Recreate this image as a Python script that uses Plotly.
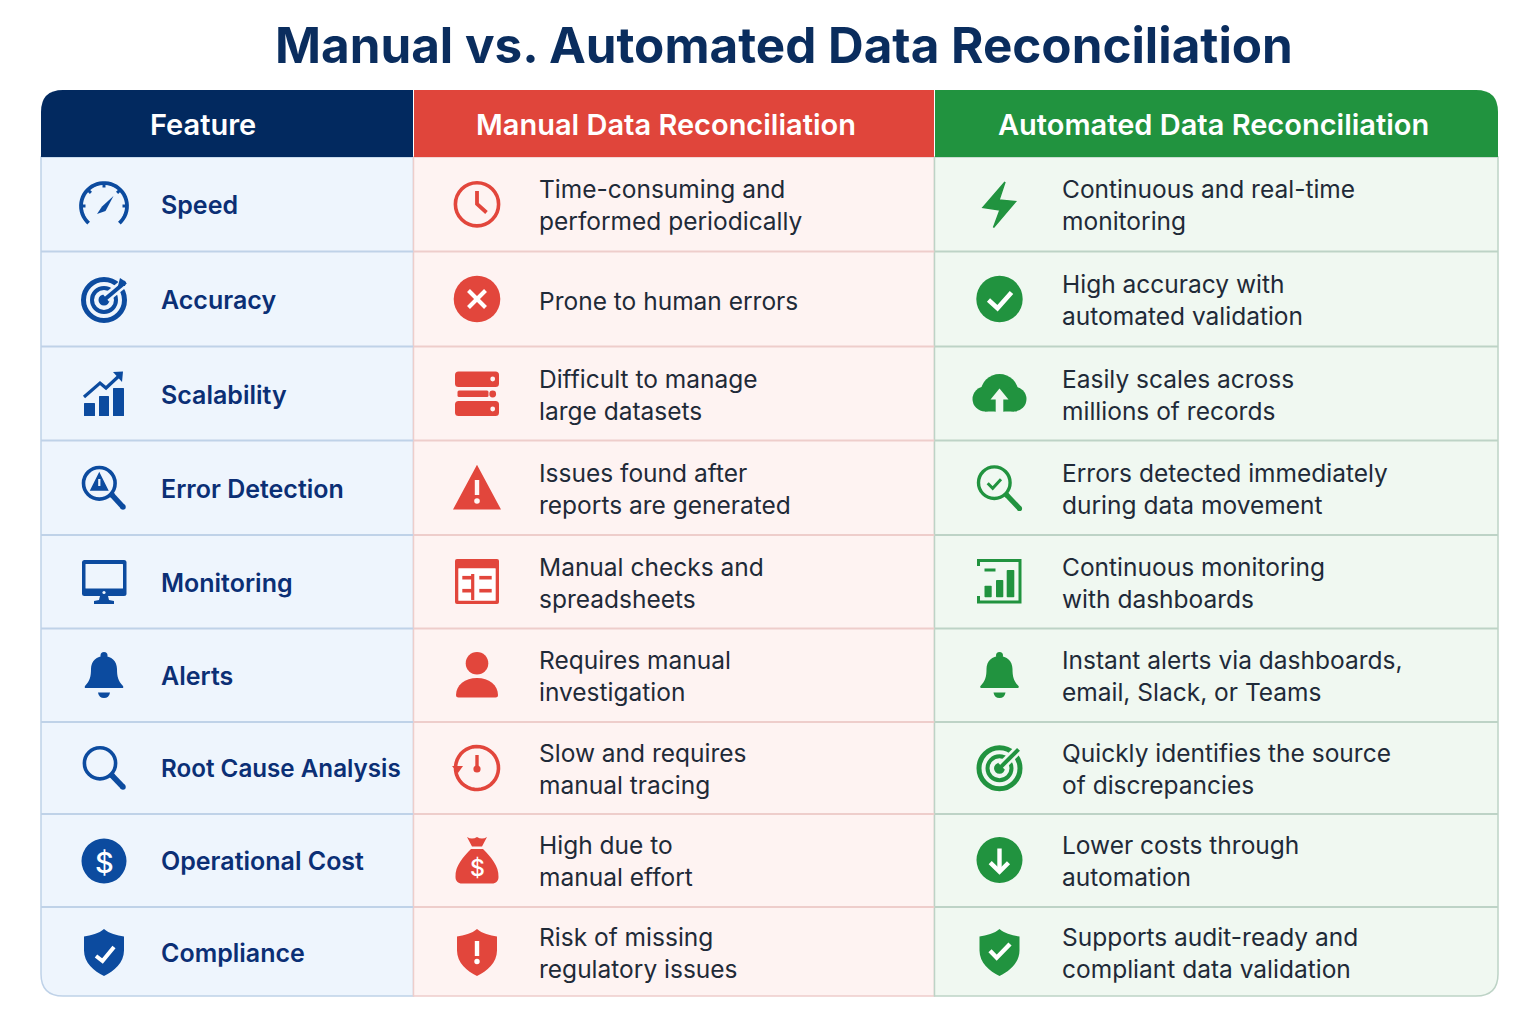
import numpy as np
import plotly.graph_objects as go

# table content
features = ["Speed", "Accuracy", "Scalability", "Error Detection", "Monitoring",
            "Alerts", "Root Cause Analysis", "Operational Cost", "Compliance"]
manual = [
    ["Time-consuming and", "performed periodically"],
    ["Prone to human errors"],
    ["Difficult to manage", "large datasets"],
    ["Issues found after", "reports are generated"],
    ["Manual checks and", "spreadsheets"],
    ["Requires manual", "investigation"],
    ["Slow and requires", "manual tracing"],
    ["High due to", "manual effort"],
    ["Risk of missing", "regulatory issues"],
]
automated = [
    ["Continuous and real-time", "monitoring"],
    ["High accuracy with", "automated validation"],
    ["Easily scales across", "millions of records"],
    ["Errors detected immediately", "during data movement"],
    ["Continuous monitoring", "with dashboards"],
    ["Instant alerts via dashboards,", "email, Slack, or Teams"],
    ["Quickly identifies the source", "of discrepancies"],
    ["Lower costs through", "automation"],
    ["Supports audit-ready and", "compliant data validation"],
]
headers = ["Feature", "Manual Data Reconciliation", "Automated Data Reconciliation"]
title = "Manual vs. Automated Data Reconciliation"

# layout, in page pixels
col_x = [41, 413.5, 934.5, 1498]
row_y = [157, 251.5, 346.5, 440.5, 535, 628.5, 722, 814, 907, 996]
row_mid = [205, 300, 395, 489, 583, 676, 769, 861, 953]
icon_x = [104, 477, 999.5]
FONT = "Inter"
NAVY, RED, GREEN = "#02295f", "#e0453b", "#21933f"
BLUE_IC, RED_IC, GREEN_IC = "#0c4b9f", "#e2463c", "#21933f"
BG = ["#eef5fd", "#fef3f2", "#f0f8f1"]
EDGE = ["#bfd2e8", "#eecdcb", "#bdd3c6"]

shapes = []
notes = []


def path(d, fill=None, line=None, w=0, layer="above"):
    shapes.append(dict(type="path", path=d, xref="x", yref="y", layer=layer,
                       fillcolor=fill or "rgba(0,0,0,0)",
                       line=dict(color=line or "rgba(0,0,0,0)", width=w)))


def poly(pts, close=False):
    d = "M " + " L ".join(f"{x:.2f},{y:.2f}" for x, y in pts)
    return d + (" Z" if close else "")


def stroke(pts, color, w, caps=False):
    path(poly(pts), line=color, w=w)
    if caps:
        for x, y in (pts[0], pts[-1]):
            circle(x, y, w / 2, fill=color)


def circle(cx, cy, r, fill=None, line=None, w=0):
    shapes.append(dict(type="circle", xref="x", yref="y", x0=cx - r, x1=cx + r, y0=cy - r, y1=cy + r,
                       fillcolor=fill or "rgba(0,0,0,0)",
                       line=dict(color=line or "rgba(0,0,0,0)", width=w)))


def rrect(x0, y0, x1, y1, r):
    return (f"M {x0 + r},{y0} L {x1 - r},{y0} Q {x1},{y0} {x1},{y0 + r} L {x1},{y1 - r} "
            f"Q {x1},{y1} {x1 - r},{y1} L {x0 + r},{y1} Q {x0},{y1} {x0},{y1 - r} "
            f"L {x0},{y0 + r} Q {x0},{y0} {x0 + r},{y0} Z")


def corner_rect(x0, y0, x1, y1, tl=0, tr=0, br=0, bl=0):
    return (f"M {x0 + tl},{y0} L {x1 - tr},{y0} Q {x1},{y0} {x1},{y0 + tr} L {x1},{y1 - br} "
            f"Q {x1},{y1} {x1 - br},{y1} L {x0 + bl},{y1} Q {x0},{y1} {x0},{y1 - bl} "
            f"L {x0},{y0 + tl} Q {x0},{y0} {x0 + tl},{y0} Z")


def arc(cx, cy, r, a0, a1, n=40):
    # angles in degrees, clockwise from the top
    a = np.radians(np.linspace(a0, a1, n))
    return list(zip(cx + r * np.sin(a), cy - r * np.cos(a)))


def text(x, y, s, size, color, weight=400, anchor="left"):
    notes.append(dict(x=x, y=y, xref="x", yref="y", text=s, showarrow=False, xanchor=anchor,
                      yanchor="middle", font=dict(family=FONT, size=size, color=color, weight=weight)))


def shield(cx, cy, color):
    d = [f"M {cx},{cy - 23.5}",
         f"C {cx + 5},{cy - 19} {cx + 13},{cy - 17} {cx + 20},{cy - 16}",
         f"L {cx + 20},{cy - 2}",
         f"C {cx + 20},{cy + 10} {cx + 10},{cy + 19} {cx},{cy + 23.5}",
         f"C {cx - 10},{cy + 19} {cx - 20},{cy + 10} {cx - 20},{cy - 2}",
         f"L {cx - 20},{cy - 16}",
         f"C {cx - 13},{cy - 17} {cx - 5},{cy - 19} {cx},{cy - 23.5} Z"]
    path(" ".join(d), fill=color)


def bell(cx, cy, color):
    d = (f"M {cx - 19},{cy + 10} C {cx - 14},{cy + 5} {cx - 13},{cy} {cx - 13},{cy - 7} "
         f"C {cx - 13},{cy - 15} {cx - 7},{cy - 20} {cx},{cy - 20} "
         f"C {cx + 7},{cy - 20} {cx + 13},{cy - 15} {cx + 13},{cy - 7} "
         f"C {cx + 13},{cy} {cx + 14},{cy + 5} {cx + 19},{cy + 10} "
         f"Q {cx + 20},{cy + 12} {cx + 18},{cy + 12} L {cx - 18},{cy + 12} "
         f"Q {cx - 20},{cy + 12} {cx - 19},{cy + 10} Z")
    path(d, fill=color)
    circle(cx, cy - 20.5, 3.5, fill=color)
    path(f"M {cx - 6},{cy + 16.5} L {cx + 6},{cy + 16.5} Q {cx + 5},{cy + 22} {cx},{cy + 22} "
         f"Q {cx - 5},{cy + 22} {cx - 6},{cy + 16.5} Z", fill=color)


def target(cx, cy, color, bg, r=20.5, tip=(19, -19)):
    circle(cx, cy, r, line=color, w=5)
    circle(cx, cy, r - 8.5, line=color, w=4)
    circle(cx, cy, 5.5, fill=color)
    end = (cx + tip[0], cy + tip[1])
    stroke([(cx + 2, cy - 2), end], bg, 9)
    stroke([(cx, cy), end], color, 4)


def magnifier(cx, cy, r, w, hx0, hy0, hx1, hy1, hw, color):
    circle(cx, cy, r, line=color, w=w)
    stroke([(hx0, hy0), (hx1, hy1)], color, hw, caps=True)


# blue column icons
def ic_speed(x, y):
    c = BLUE_IC
    stroke(arc(x, y + 1, 23, -138, 138), c, 3.8)
    for a in [-90, -45, 0, 45, 90]:
        (ax, ay), (bx, by) = arc(x, y + 1, 23, a, a, 2)[0], arc(x, y + 1, 18.5, a, a, 2)[0]
        stroke([(ax, ay), (bx, by)], c, 3)
    path(poly([(x + 9.5, y - 9), (x + 1.5, y + 6), (x - 7, y + 9), (x - 2, y + 1.5)], True), fill=c)


def ic_accuracy(x, y):
    target(x, y, BLUE_IC, BG[0], tip=(21.5, -18))
    path(poly([(x + 14, y - 14), (x + 16, y - 22), (x + 22, y - 18), (x + 21, y - 14)], True), fill=BLUE_IC)


def ic_scale(x, y):
    c = BLUE_IC
    for x0, y0, x1 in [(84, 403, 95), (99, 396, 109), (113, 388, 124)]:
        path(rrect(x0 + x - 104, y0 + y - 395, x1 + x - 104, 416 + y - 395, 0.5), fill=c)
    stroke([(x - 20, y + 2), (x - 4, y - 12), (x + 2, y - 7), (x + 16, y - 20)], c, 3.2)
    path(poly([(x + 9, y - 23), (x + 19, y - 23.5), (x + 18, y - 13)], True), fill=c)


def ic_error(x, y):
    c = BLUE_IC
    magnifier(x - 4.7, y - 5.7, 15.8, 3.6, x + 8, y + 6, x + 19, y + 18, 5.5, c)
    path(poly([(x - 4.7, y - 15.5), (x + 3.5, y + 1), (x - 13, y + 1)], True), fill=c, line=c, w=1.5)
    stroke([(x - 4.7, y - 10), (x - 4.7, y - 3)], BG[0], 2.2)


def ic_monitor(x, y):
    c = BLUE_IC
    path(rrect(x - 22, y - 23, x + 22.5, y + 13, 2.5), fill=c)
    path(rrect(x - 18.5, y - 19, x + 19, y + 5.5, 0.5), fill=BG[0])
    circle(x, y + 9.5, 1.6, fill=BG[0])
    path(poly([(x - 4, y + 13), (x + 4, y + 13), (x + 5, y + 17), (x + 10, y + 18), (x + 10, y + 21),
               (x - 10, y + 21), (x - 10, y + 18), (x - 5, y + 17)], True), fill=c)


def ic_alert_b(x, y):
    bell(x, y, BLUE_IC)


def ic_root(x, y):
    magnifier(x - 4, y - 5.7, 15.6, 3.6, x + 8, y + 6.5, x + 19, y + 18, 5.5, BLUE_IC)


def ic_cost(x, y):
    circle(x, y, 22.5, fill=BLUE_IC)
    text(x, y + 1, "$", 29, "#ffffff", 500, "center")


def ic_comply(x, y):
    shield(x, y - 0.5, BLUE_IC)
    stroke([(x - 8, y + 3), (x - 1.5, y + 8), (x + 10, y - 6)], "#ffffff", 4)


# red column icons
def ic_clock(x, y):
    c = RED_IC
    circle(x, y - 0.7, 21.6, line=c, w=3.6)
    stroke([(x, y - 14), (x, y - 1), (x + 9.5, y + 7.5)], c, 3.8)


def ic_cross(x, y):
    circle(x, y - 1, 23.3, fill=RED_IC)
    stroke([(x - 8.5, y - 9.5), (x + 8.5, y + 7.5)], "#ffffff", 4)
    stroke([(x + 8.5, y - 9.5), (x - 8.5, y + 7.5)], "#ffffff", 4)


def ic_server(x, y):
    c = RED_IC
    path(rrect(x - 22, y - 23.5, x + 22, y - 8, 3.5), fill=c)
    path(rrect(x - 19.5, y - 4.5, x + 11.5, y + 2, 1.5), fill=c)
    circle(x + 15.7, y - 1, 3.4, fill=c)
    path(rrect(x - 22, y + 6, x + 22, y + 21, 3.5), fill=c)
    circle(x + 15.7, y - 16, 2.4, fill=BG[1])
    circle(x + 15.7, y + 14, 2.4, fill=BG[1])


def ic_warn(x, y):
    c = RED_IC
    path(poly([(x, y - 21), (x + 21.5, y + 19), (x - 21.5, y + 19)], True), fill=c, line=c, w=3)
    stroke([(x, y - 9), (x, y + 6)], "#fff5f3", 4.4)
    circle(x, y + 12, 2.8, fill="#fff5f3")


def ic_sheet(x, y):
    c = RED_IC
    path(rrect(x - 22, y - 24, x + 22, y + 21, 2), fill=c)
    path(rrect(x - 18.7, y - 14.7, x + 18.7, y + 17.7, 0.5), fill="#ffffff")
    stroke([(x - 4.3, y - 9), (x - 4.3, y + 17)], c, 3.2)
    for yy in (-5.3, 7.7):
        stroke([(x - 14.7, y + yy), (x - 3.7, y + yy)], c, 3.6)
        stroke([(x + 2.3, y + yy), (x + 14.7, y + yy)], c, 3.6)


def ic_person(x, y):
    c = RED_IC
    circle(x, y - 12.7, 11.3, fill=c)
    path(f"M {x - 21},{y + 19} C {x - 21},{y + 9} {x - 12},{y + 2} {x},{y + 2} "
         f"C {x + 12},{y + 2} {x + 21},{y + 9} {x + 21},{y + 19} "
         f"Q {x + 21},{y + 21.5} {x + 18.5},{y + 21.5} L {x - 18.5},{y + 21.5} "
         f"Q {x - 21},{y + 21.5} {x - 21},{y + 19} Z", fill=c)


def ic_timer(x, y):
    c = RED_IC
    stroke(arc(x, y - 1, 21.5, -105, 262), c, 3.6)
    path(poly([(x - 25, y - 3), (x - 14, y - 3), (x - 19, y + 4)], True), fill=c)
    stroke([(x, y - 14), (x, y)], c, 3.4)
    circle(x, y, 3.6, fill=c)


def ic_bag(x, y):
    c = RED_IC
    path(f"M {x - 10},{y - 24} Q {x - 5},{y - 21} {x},{y - 24} Q {x + 5},{y - 21} {x + 10},{y - 24} "
         f"L {x + 5},{y - 14.5} L {x - 5},{y - 14.5} Z", fill=c)
    path(f"M {x - 6},{y - 12} L {x + 6},{y - 12} C {x + 14},{y - 4} {x + 22},{y + 5} {x + 21.5},{y + 16} "
         f"C {x + 21.5},{y + 20} {x + 19},{y + 22.5} {x + 15},{y + 22.5} L {x - 15},{y + 22.5} "
         f"C {x - 19},{y + 22.5} {x - 21.5},{y + 20} {x - 21.5},{y + 16} "
         f"C {x - 22},{y + 5} {x - 14},{y - 4} {x - 6},{y - 12} Z", fill=c)
    text(x, y + 7, "$", 23, "#ffffff", 500, "center")


def ic_shield_x(x, y):
    shield(x, y - 0.5, RED_IC)
    stroke([(x, y - 12), (x, y + 3)], "#ffffff", 4.4)
    circle(x, y + 8.5, 2.7, fill="#ffffff")


# green column icons
def ic_bolt(x, y):
    c = GREEN_IC
    path(poly([(x + 5.5, y - 23), (x - 16.5, y + 2.5), (x + 0.5, y + 5), (x - 6, y + 22.5),
               (x + 16, y - 3.5), (x - 0.5, y - 5)], True), fill=c, line=c, w=1.5)


def ic_check(x, y):
    circle(x, y - 1, 23.2, fill=GREEN_IC)
    stroke([(x - 11, y), (x - 2, y + 8.3), (x + 12, y - 7.5)], "#ffffff", 4.6)


def ic_cloud(x, y):
    c = GREEN_IC
    circle(x, y - 2, 19, fill=c)
    circle(x - 14.5, y + 4, 12.5, fill=c)
    circle(x + 14.5, y + 4, 12.5, fill=c)
    path(rrect(x - 14.5, y - 2, x + 14.5, y + 16.5, 0), fill=c)
    path(rrect(x - 3.8, y + 3, x + 3.8, y + 17, 0), fill=BG[2])
    path(poly([(x - 9, y + 4.5), (x, y - 6.5), (x + 9, y + 4.5)], True), fill=BG[2])


def ic_mag_check(x, y):
    c = GREEN_IC
    magnifier(x - 5.2, y - 6.3, 15.8, 3.4, x + 7.2, y + 6, x + 20, y + 19.5, 5.2, c)
    stroke([(x - 11.8, y - 5.7), (x - 6.8, y - 0.7), (x + 1.5, y - 9.7)], c, 3)


def ic_dash(x, y):
    c = GREEN_IC
    stroke([(x - 21, y - 17), (x - 21, y - 22.5), (x + 20.5, y - 22.5), (x + 20.5, y + 19),
            (x - 21, y + 19), (x - 21, y + 13)], c, 3)
    for x0, y0, x1 in [(-15, 2.7, -7.8), (-3.5, -3, 3.8), (7.2, -13, 14.8)]:
        path(rrect(x + x0, y + y0, x + x1, y + 14.3, 0.8), fill=c)
    stroke([(x - 15, y - 13), (x - 4, y - 13)], c, 3)


def ic_alert_g(x, y):
    bell(x, y, GREEN_IC)


def ic_target_g(x, y):
    target(x, y - 0.7, GREEN_IC, BG[2], tip=(19, -19))


def ic_down(x, y):
    circle(x, y - 1, 23, fill=GREEN_IC)
    stroke([(x, y - 12.5), (x, y + 9)], "#ffffff", 4.4)
    stroke([(x - 9.3, y + 1.7), (x, y + 10.7), (x + 9, y + 1.7)], "#ffffff", 4.4)


def ic_shield_c(x, y):
    shield(x, y - 0.5, GREEN_IC)
    stroke([(x - 9.5, y - 2.3), (x - 2.8, y + 4.7), (x + 10.5, y - 9)], "#ffffff", 4.4)


blue_icons = [ic_speed, ic_accuracy, ic_scale, ic_error, ic_monitor, ic_alert_b, ic_root, ic_cost, ic_comply]
red_icons = [ic_clock, ic_cross, ic_server, ic_warn, ic_sheet, ic_person, ic_timer, ic_bag, ic_shield_x]
green_icons = [ic_bolt, ic_check, ic_cloud, ic_mag_check, ic_dash, ic_alert_g, ic_target_g, ic_down, ic_shield_c]

# cells
R = 22
top, head_bot, bot = 90, row_y[0], row_y[-1]
path(corner_rect(col_x[0], head_bot, col_x[1], bot, bl=R), fill=BG[0], line=EDGE[0], w=1.5)
path(corner_rect(col_x[1], head_bot, col_x[2], bot), fill=BG[1], line=EDGE[1], w=1.5)
path(corner_rect(col_x[2], head_bot, col_x[3], bot, br=R), fill=BG[2], line=EDGE[2], w=1.5)
for yy in row_y[1:-1]:
    for i in range(3):
        stroke([(col_x[i], yy), (col_x[i + 1], yy)], EDGE[i], 1.8)

# header row
path(corner_rect(col_x[0], top, col_x[1] - 0.5, head_bot, tl=R), fill=NAVY)
path(corner_rect(col_x[1] + 0.5, top, col_x[2] - 0.5, head_bot), fill=RED)
path(corner_rect(col_x[2] + 0.5, top, col_x[3], head_bot, tr=R), fill=GREEN)
for xc, s in zip([203, 665.5, 1213], headers):
    text(xc, 124, s, 29, "#ffffff", 600, "center")

text(784, 45, title, 49.4, "#0a2d5e", 700, "center")

# rows
for i, y in enumerate(row_mid):
    blue_icons[i](icon_x[0], y)
    red_icons[i](icon_x[1], y)
    green_icons[i](icon_x[2], y)
    # the long label is set a little tighter so it stays inside its column
    text(159, y - 0.5, features[i], 24.2 if len(features[i]) > 16 else 25, "#0b2f75", 600)
    for x, lines in ((537, manual[i]), (1060, automated[i])):
        if len(lines) == 1:
            text(x, y + 0.5, lines[0], 24.5, "#1f2a38")
        else:
            text(x, y - 16.5, lines[0], 24.5, "#1f2a38")
            text(x, y + 15.5, lines[1], 24.5, "#1f2a38")

fig = go.Figure()
fig.update_layout(
    width=1536, height=1024,
    margin=dict(l=0, r=0, t=0, b=0),
    paper_bgcolor="#ffffff",
    plot_bgcolor="#ffffff",
    showlegend=False,
    shapes=shapes,
    annotations=notes,
    xaxis=dict(range=[0, 1536], visible=False, fixedrange=True),
    yaxis=dict(range=[1024, 0], visible=False, fixedrange=True),
)

fig.write_html("out.html", config={"displayModeBar": False},
               post_script="document.body.style.margin='0';")
